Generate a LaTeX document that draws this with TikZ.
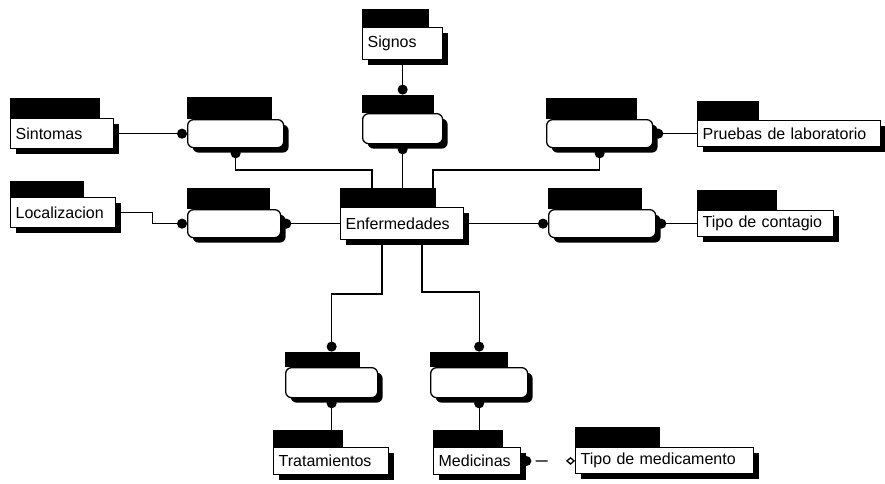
\documentclass[tikz,border=0pt]{standalone}
\usepackage{fontspec}
\setmainfont{Liberation Sans}
\usetikzlibrary{arrows.meta,shadows}

\begin{document}
\begin{tikzpicture}[x=1pt,y=-1pt,
ent/.style={draw, line width=1.3pt, fill=white, anchor=north west, inner xsep=5pt, inner ysep=0pt,
  minimum height=28pt, align=left, font=\fontsize{16}{18}\selectfont,
  drop shadow={shadow xshift=5pt, shadow yshift=-5pt, fill=black, opacity=1}},
dep/.style={ent, rounded corners=6pt},
tab/.style={fill=black, anchor=south west, inner sep=0pt, minimum height=18pt},
idrel/.style={line width=1.3pt, -{Circle[length=10pt]}},
nonid/.style={line width=1.3pt, dash pattern=on 12pt off 20pt, dash phase=27pt,
  {Circle[length=10pt]}-{Diamond[open, length=9pt, width=8pt]}},
]
\useasboundingbox (0,0) rectangle (885,483);

% entities
\node[ent, text width=70pt, minimum height=32pt] (signos) at (362,27) {Signos};
\node[ent, text width=93pt, minimum height=30pt] (sint) at (10,118) {Sintomas};
\node[ent, text width=95pt, minimum height=30pt] (loc) at (10,197) {Localizacion};
\node[ent, text width=113pt, minimum height=32pt] (enf) at (340,207) {Enfermedades};
\node[ent, text width=173pt, minimum height=26pt] (pruebas) at (697,120) {Pruebas de laboratorio};
\node[ent, text width=126pt, minimum height=26pt] (cont) at (697,210) {Tipo de contagio};
\node[ent, text width=105pt, minimum height=27pt] (trat) at (273,447) {Tratamientos};
\node[ent, text width=77pt, minimum height=27pt] (med) at (433,447) {Medicinas};
\node[ent, text width=168pt, minimum height=26pt] (tipomed) at (575,447) {Tipo de medicamento};

% dependent boxes
\node[dep, minimum width=96pt] (sintA) at (187,119) {};
\node[dep, minimum width=80pt, minimum height=30pt] (signA) at (362,113) {};
\node[dep, minimum width=106pt] (pruebA) at (546,119) {};
\node[dep, minimum width=93pt] (locA) at (187,209) {};
\node[dep, minimum width=107pt] (contA) at (548,209) {};
\node[dep, minimum width=92pt, minimum height=30pt] (tratA) at (285,367) {};
\node[dep, minimum width=97pt, minimum height=30pt] (medA) at (430,367) {};

% name tabs
\node[tab, minimum width=67pt] (signosT) at (signos.north west) {};
\node[tab, minimum width=90pt, minimum height=20pt] (sintT) at (sint.north west) {};
\node[tab, minimum width=74pt, minimum height=16pt] (locT) at (loc.north west) {};
\node[tab, minimum width=96pt, minimum height=19pt] (enfT) at (enf.north west) {};
\node[tab, minimum width=62pt, minimum height=19pt] (pruebasT) at (pruebas.north west) {};
\node[tab, minimum width=80pt, minimum height=20pt] (contT) at (cont.north west) {};
\node[tab, minimum width=70pt, minimum height=17pt] (tratT) at (trat.north west) {};
\node[tab, minimum width=70pt, minimum height=17pt] (medT) at (med.north west) {};
\node[tab, minimum width=85pt, minimum height=20pt] (tipomedT) at (tipomed.north west) {};
\node[tab, minimum width=85pt, minimum height=22pt] (sintAT) at (sintA.north west) {};
\node[tab, minimum width=72pt] (signAT) at (signA.north west) {};
\node[tab, minimum width=91pt, minimum height=21pt] (pruebAT) at (pruebA.north west) {};
\node[tab, minimum width=83pt, minimum height=21pt] (locAT) at (locA.north west) {};
\node[tab, minimum width=94pt, minimum height=21pt] (contAT) at (contA.north west) {};
\node[tab, minimum width=75pt, minimum height=15pt] (tratAT) at (tratA.north west) {};
\node[tab, minimum width=78pt, minimum height=15pt] (medAT) at (medA.north west) {};

% bends of the links
\coordinate (j1) at (372,170);
\coordinate (j2) at (433,170);
\coordinate (j3) at (382,294);
\coordinate (j4) at (422,292);

\path[idrel]
(sint) edge (sintA)
(pruebas) edge (pruebA)
(enf) edge (locA)
(enf) edge (contA)
(cont) edge (contA)
;
\draw[idrel] (loc.east) -- ++(36,0) |- (locA.west);
\draw[idrel] (signos.south) -- (signos.south |- signAT.north);
\draw[idrel] (signA.south |- enfT.north) -- (signA.south);
\draw[idrel] (j1 |- enfT.north) -- (j1) -| (sintA.south);
\draw[idrel] (j2 |- enfT.north) -- (j2) -| (pruebA.south);
\draw[idrel] (j3 |- enf.south) -- (j3) -| (tratA.north |- tratAT.north);
\draw[idrel] (j4 |- enf.south) -- (j4) -| (medA.north |- medAT.north);
\draw[idrel] (tratA.south |- tratT.north) -- (tratA.south);
\draw[idrel] (medA.south |- medT.north) -- (medA.south);
\draw[nonid] (med) -- (tipomed);
\end{tikzpicture}
\end{document}
